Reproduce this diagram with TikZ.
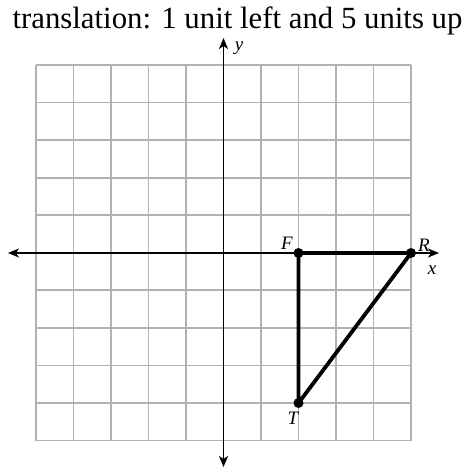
\documentclass[tikz,border=0pt]{standalone}
\usepackage{fontspec}
\setmainfont{Liberation Serif}
\usetikzlibrary{arrows.meta}
\begin{document}
\begin{tikzpicture}[x=1pt,y=-1pt,
  gridline/.style={draw=black!30,line width=1.8pt},
  axisline/.style={draw=black,line width=1.8pt,{Stealth[length=11pt,width=9pt,inset=3pt]}-{Stealth[length=11pt,width=9pt,inset=3pt]}},
  side/.style={draw=black,line width=3.8pt},
  dot/.style={circle,fill=black,inner sep=0pt,minimum size=10pt},
  lab/.style={font=\fontsize{19}{19}\selectfont\itshape,inner sep=0pt}]
\useasboundingbox (0,0) rectangle (472,469);
\node[font=\fontsize{30.8}{31}\selectfont] (title) at (237.5,21) {translation: 1 unit left and 5 units up};
% grid
\foreach \i in {0,...,10} {
  \draw[gridline] (36+37.5*\i,65) -- (36+37.5*\i,440.5);
  \draw[gridline] (36,65+37.55*\i) -- (411,65+37.55*\i);
}
% axes
\coordinate (xl) at (8,253);
\coordinate (xr) at (439,253);
\coordinate (yt) at (223.5,38);
\coordinate (yb) at (223.5,467);
\draw[axisline] (xl) -- (xr);
\draw[axisline] (yb) -- (yt);
\node[lab] (xlab) at (432,270) {x};
\node[lab] (ylab) at (239,48) {y};
% triangle
\node[dot] (F) at (298.5,253) {};
\node[dot] (R) at (411,253) {};
\node[dot] (T) at (298.5,403) {};
\draw[side,line join=round] (F.center) -- (R.center) -- (T.center) -- cycle;
\node[lab] (Flab) at (287,243) {F};
\node[lab] (Rlab) at (424,245) {R};
\node[lab] (Tlab) at (293,418) {T};
\end{tikzpicture}
\end{document}
